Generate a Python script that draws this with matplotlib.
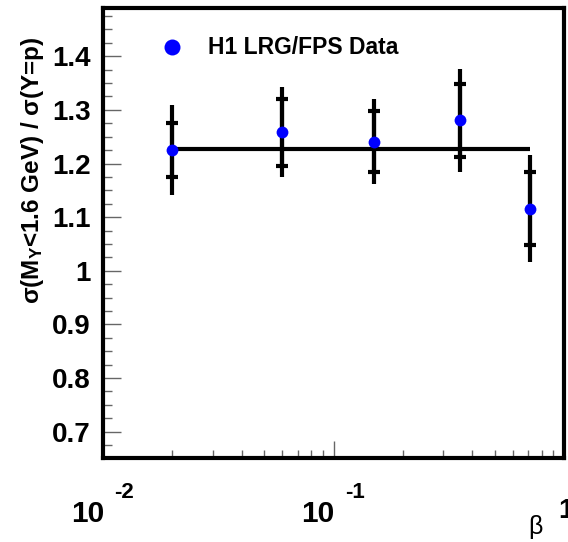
import matplotlib
matplotlib.use("Agg")
import matplotlib.pyplot as plt
from matplotlib.ticker import FixedLocator, NullFormatter, LogLocator
import matplotlib.transforms as mtransforms

plt.rcParams['font.family'] = ['Liberation Sans', 'DejaVu Sans']
plt.rcParams['mathtext.fontset'] = 'custom'
plt.rcParams['mathtext.rm'] = 'Liberation Sans:bold'
plt.rcParams['mathtext.bf'] = 'Liberation Sans:bold'
plt.rcParams['mathtext.it'] = 'Liberation Sans:bold'

# Data
beta = [0.02, 0.06, 0.15, 0.355, 0.71]
ratio = [1.225, 1.258, 1.241, 1.281, 1.116]
stat_err = [0.050, 0.062, 0.057, 0.068, 0.068]
tot_err = [0.084, 0.084, 0.079, 0.096, 0.099]
fit_value = 1.227
fit_range = [0.02, 0.71]
legend_label = "H1 LRG/FPS Data"
ytick_vals = [0.7, 0.8, 0.9, 1.0, 1.1, 1.2, 1.3, 1.4]
ytick_labels = ["0.7", "0.8", "0.9", "1", "1.1", "1.2", "1.3", "1.4"]
xtick_vals = [0.01, 0.1, 1.0]
xtick_bases = ["10", "10", "1"]
xtick_exps = ["-2", "-1", ""]

fig = plt.figure(figsize=(5.68, 5.42), dpi=100)
ax = fig.add_axes([103/568, (542-458)/542, (564-103)/568, (458-8)/542])
ax.set_xscale('log')
ax.set_xlim(0.01, 1.0)
ax.set_ylim(0.651, 1.49)

# fit line
ax.plot(fit_range, [fit_value, fit_value], color='black', lw=3, zorder=2, solid_capstyle='butt')

# total errors
ax.errorbar(beta, ratio, yerr=tot_err, fmt='none', ecolor='black', elinewidth=3, capsize=0, zorder=3)
# stat errors as tick marks
ax.errorbar(beta, ratio, yerr=stat_err, fmt='none', ecolor='black', elinewidth=3, capsize=4.5, capthick=3, zorder=3)
# points
ax.plot(beta, ratio, 'o', color='#0000ff', markersize=8.5, zorder=4, markeredgewidth=0)

# legend entry
ax.plot([0.02], [1.417], 'o', color='#0000ff', markersize=11.5, markeredgewidth=0, clip_on=False)
ax.text(0.0285, 1.417, legend_label, fontsize=16.5, fontweight='bold', va='center', ha='left')

for s in ax.spines.values():
    s.set_linewidth(3)

# y ticks
ax.yaxis.set_major_locator(FixedLocator(ytick_vals))
ax.set_yticklabels(ytick_labels)
ax.yaxis.set_minor_locator(FixedLocator([0.65 + 0.025 * i for i in range(0, 35)]))
ax.tick_params(axis='y', which='major', direction='in', length=13, width=1, color='#666666',
               labelsize=20, pad=9, right=False)
ax.tick_params(axis='y', which='minor', direction='in', length=6.5, width=1, color='#666666', right=False)
for lab in ax.get_yticklabels():
    lab.set_fontweight('bold')

# x ticks
ax.xaxis.set_major_locator(FixedLocator(xtick_vals))
ax.xaxis.set_major_formatter(NullFormatter())
ax.xaxis.set_minor_locator(LogLocator(base=10, subs=[2, 3, 4, 5, 6, 7, 8, 9], numticks=20))
ax.xaxis.set_minor_formatter(NullFormatter())
ax.tick_params(axis='x', which='major', direction='in', length=12, width=1, color='#666666', top=False)
ax.tick_params(axis='x', which='minor', direction='in', length=6, width=1, color='#666666', top=False)

trans = mtransforms.blended_transform_factory(ax.transData, fig.transFigure)
for xv, b, e in zip(xtick_vals, xtick_bases, xtick_exps):
    if e:
        ax.text(xv * 1.01, 1 - 522/542, b, transform=trans, fontsize=21.5, fontweight='bold',
                ha='right', va='baseline', clip_on=False)
        ax.text(xv * 1.12, 1 - 498/542, e, transform=trans, fontsize=16, fontweight='bold',
                ha='left', va='baseline', clip_on=False)
    else:
        ax.text(xv * 0.94, 1 - 518/542, b, transform=trans, fontsize=20, fontweight='bold',
                ha='left', va='baseline', clip_on=False)

# axis labels
fig.text(33/568, 1 - 170/542, r'$\sigma$(M$_{\mathbf{Y}}$<1.6 GeV) / $\sigma$(Y=p)', rotation=90,
         fontsize=17.5, fontweight='bold', ha='center', va='center')
fig.text(535/568, 1 - 527/542, 'β', fontsize=18, ha='center', va='center')

fig.savefig('out.png', dpi=100)
